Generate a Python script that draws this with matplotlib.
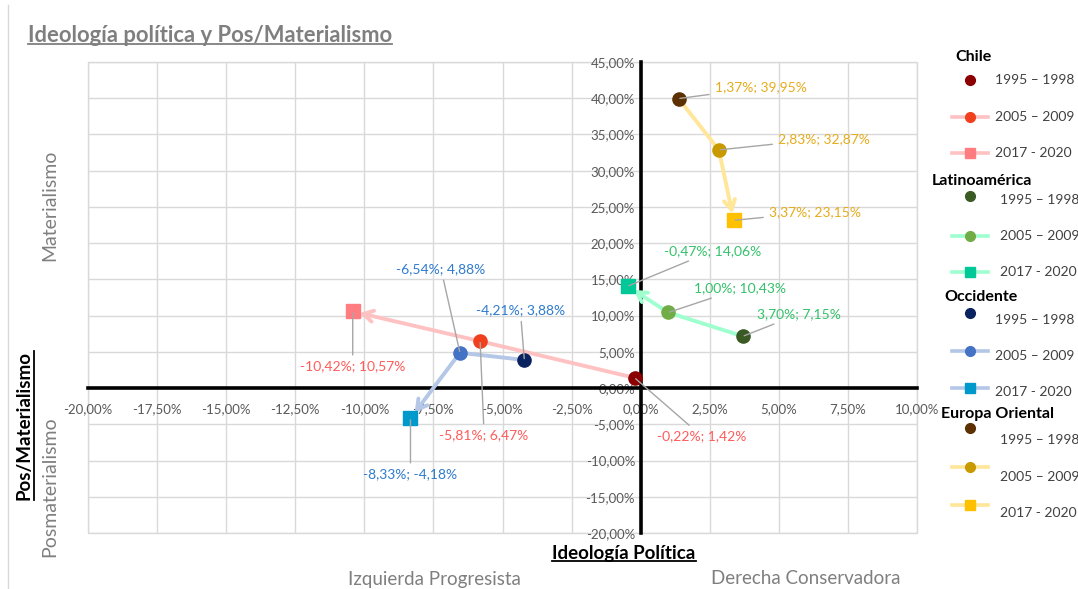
import matplotlib
matplotlib.use("Agg")
import matplotlib.pyplot as plt
from matplotlib.lines import Line2D
from matplotlib.patches import Rectangle
from matplotlib.ticker import FuncFormatter, MultipleLocator

plt.rcParams['font.family'] = ['Lato', 'DejaVu Sans']

# datos: ideologia (x) y pos/materialismo (y), en %
grupos = ['Chile', 'Latinoamérica', 'Occidente', 'Europa Oriental']
periodos = ['1995 – 1998', '2005 – 2009', '2017 - 2020']
ideologia_chile = [-0.22, -5.81, -10.42]
materialismo_chile = [1.42, 6.47, 10.57]
ideologia_latam = [3.70, 1.00, -0.47]
materialismo_latam = [7.15, 10.43, 14.06]
ideologia_occ = [-4.21, -6.54, -8.33]
materialismo_occ = [3.88, 4.88, -4.18]
ideologia_eur = [1.37, 2.83, 3.37]
materialismo_eur = [39.95, 32.87, 23.15]

xs = [ideologia_chile, ideologia_latam, ideologia_occ, ideologia_eur]
ys = [materialismo_chile, materialismo_latam, materialismo_occ, materialismo_eur]

# estilos
marker_colors = [['#8B0000', '#F0401E', '#FF7C80'],
                 ['#3A5A24', '#70AD47', '#00C896'],
                 ['#0B2260', '#4472C4', '#0099CC'],
                 ['#5C3000', '#C89A00', '#FFC000']]
line_colors = ['#FFC2C2', '#9FFFCF', '#B4C7E7', '#FFE699']
label_colors = ['#FF5B5B', '#33C26A', '#2E7BCF', '#E6AC1E']
# desplazamiento de las etiquetas (pixeles) y alineacion
label_offsets = [[(22, -58, 'left'), (4, -94, 'center'), (0, -55, 'center')],
                 [(14, 22, 'left'), (26, 24, 'left'), (36, 35, 'left')],
                 [(-4, 50, 'center'), (-19, 84, 'center'), (0, -56, 'center')],
                 [(36, 11, 'left'), (59, 11, 'left'), (35, 8, 'left')]]

W, H = 1078, 589
fig = plt.figure(figsize=(W / 100, H / 100), dpi=100)
ax = fig.add_axes([88 / W, 56 / H, 829 / W, 471 / H])

ax.set_xlim(-20, 10)
ax.set_ylim(-20, 45)
ax.xaxis.set_major_locator(MultipleLocator(2.5))
ax.yaxis.set_major_locator(MultipleLocator(5))
fmt = FuncFormatter(lambda v, p: f"{v:.2f}%".replace('.', ','))
ax.xaxis.set_major_formatter(fmt)
ax.yaxis.set_major_formatter(fmt)
ax.grid(True, color='#D9D9D9', lw=1)
ax.set_axisbelow(True)
for s in ['top', 'right']:
    ax.spines[s].set_visible(False)
ax.spines['left'].set_position(('data', 0))
ax.spines['bottom'].set_position(('data', 0))
for s in ['left', 'bottom']:
    ax.spines[s].set_linewidth(2.6)
    ax.spines[s].set_color('black')
    ax.spines[s].set_zorder(1.5)
ax.tick_params(length=0, labelsize=9.5, labelcolor='#595959')
ax.tick_params(axis='x', pad=11)
ax.tick_params(axis='y', pad=4)
ax.add_patch(Rectangle((0, 0), 1, 1, transform=ax.transAxes, fill=False,
                       ec='#D9D9D9', lw=1, clip_on=False, zorder=0.5))

# lineas con flecha
for i in range(4):
    x, y = xs[i], ys[i]
    ax.plot(x[:2], y[:2], color=line_colors[i], lw=2.8, solid_capstyle='butt', zorder=2)
    ax.annotate('', xy=(x[2], y[2]), xytext=(x[1], y[1]),
                arrowprops=dict(arrowstyle='->,head_length=0.7,head_width=0.4',
                                color=line_colors[i], lw=2.8, shrinkA=0, shrinkB=5),
                zorder=2)

# marcadores y etiquetas
for i in range(4):
    for j in range(3):
        mk = 's' if j == 2 else 'o'
        ax.plot(xs[i][j], ys[i][j], marker=mk, ms=9.5, color=marker_colors[i][j],
                mec=marker_colors[i][j], ls='none', zorder=4)
        dx, dy, ha = label_offsets[i][j]
        txt = f"{xs[i][j]:.2f}%; {ys[i][j]:.2f}%".replace('.', ',')
        ax.annotate(txt, xy=(xs[i][j], ys[i][j]), xytext=(dx, dy),
                    textcoords='offset pixels', ha=ha, va='center',
                    fontsize=10, color=label_colors[i],
                    arrowprops=dict(arrowstyle='-', color='#A6A6A6', lw=1,
                                    shrinkA=2, shrinkB=1),
                    zorder=5)


def fx(px):
    return px / W


def fy(py):
    return 1 - py / H


def underline(t, color, vertical=False, lw=1.3):
    fig.canvas.draw()
    bb = t.get_window_extent()
    inv = fig.transFigure.inverted()
    if vertical:
        (x0, y0), (x1, y1) = inv.transform([(bb.x1 + 1, bb.y0), (bb.x1 + 1, bb.y1)])
    else:
        (x0, y0), (x1, y1) = inv.transform([(bb.x0, bb.y0 + 2), (bb.x1, bb.y0 + 2)])
    fig.add_artist(Line2D([x0, x1], [y0, y1], color=color, lw=lw))


# titulos
t = fig.text(fx(28), fy(35), 'Ideología política y Pos/Materialismo', fontsize=15.8,
             fontweight='bold', color='#7F7F7F', ha='left', va='center')
underline(t, '#7F7F7F')
t = fig.text(fx(624), fy(554), 'Ideología Política', fontsize=13.5,
             fontweight='bold', color='black', ha='center', va='center')
underline(t, 'black')
t = fig.text(fx(24), fy(425), 'Pos/Materialismo', fontsize=13.5, rotation=90,
             fontweight='bold', color='black', ha='center', va='center')
underline(t, 'black', vertical=True)
fig.text(fx(434), fy(579), 'Izquierda Progresista', fontsize=13.5, color='#7F7F7F',
         ha='center', va='center')
fig.text(fx(806), fy(579), 'Derecha Conservadora', fontsize=13.5, color='#7F7F7F',
         ha='center', va='center')
fig.text(fx(50), fy(205), 'Materialismo', fontsize=14, color='#7F7F7F', rotation=90,
         ha='center', va='center')
fig.text(fx(50), fy(487), 'Posmaterialismo', fontsize=14, color='#7F7F7F', rotation=90,
         ha='center', va='center')
fig.add_artist(Line2D([fx(8), fx(8)], [0, fy(5)], color='#D9D9D9', lw=1))

# leyenda manual
headers = [(955, 57), (932, 181), (944, 297), (941, 414)]
entry_marker_y = [[80, 117, 153], [196, 236, 272], [313, 351, 388], [428, 467, 505]]
entry_text = [[(995, 80), (995, 117), (995, 153)],
              [(1000, 200), (1000, 236), (1000, 272)],
              [(995, 320), (995, 356), (995, 392)],
              [(1000, 440), (1000, 477), (1000, 513)]]
for i in range(4):
    hx, hy = headers[i]
    fig.text(fx(hx), fy(hy), grupos[i], fontsize=11.5, fontweight='bold',
             color='black', ha='left', va='center')
    for j in range(3):
        my = entry_marker_y[i][j]
        if j > 0:
            fig.add_artist(Line2D([fx(952), fx(988)], [fy(my), fy(my)],
                                  color=line_colors[i], lw=2.6))
        mk = 's' if j == 2 else 'o'
        fig.add_artist(Line2D([fx(970)], [fy(my)], marker=mk, ms=7,
                              color=marker_colors[i][j], ls='none'))
        tx, ty = entry_text[i][j]
        fig.text(fx(tx), fy(ty), periodos[j], fontsize=10, color='#404040',
                 ha='left', va='center')

fig.savefig('out.png', dpi=100)
